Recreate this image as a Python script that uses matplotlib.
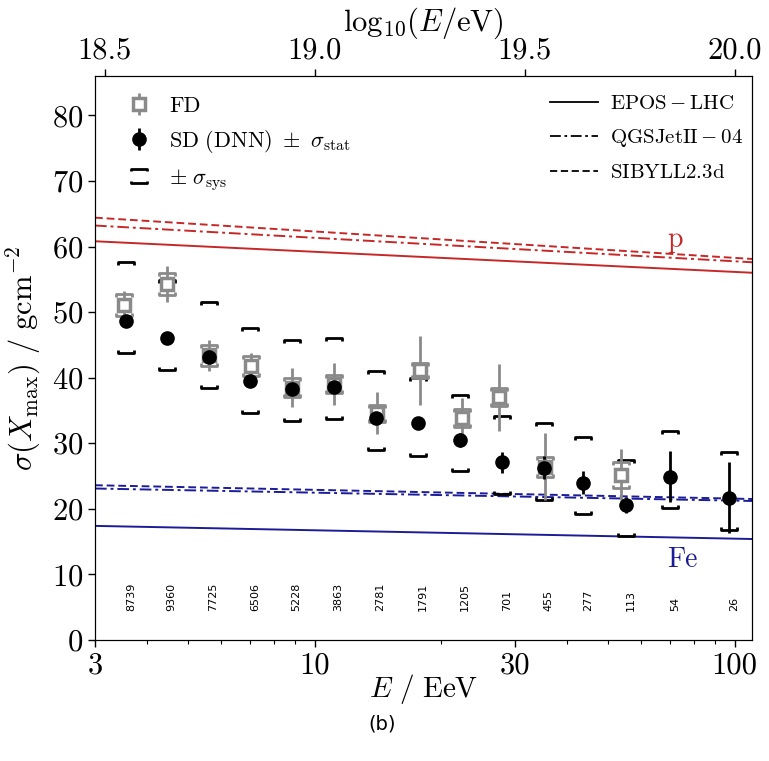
import matplotlib
matplotlib.use("Agg")
import matplotlib.pyplot as plt
import matplotlib.transforms as mtransforms
import numpy as np
from matplotlib.path import Path
from matplotlib.lines import Line2D
from matplotlib.ticker import FixedLocator, NullFormatter, LogLocator

plt.rcParams.update({
    "font.family": "serif",
    "font.serif": ["cmr10"],
    "mathtext.fontset": "cm",
    "axes.formatter.use_mathtext": True,
    "axes.unicode_minus": False,
})

# SD (DNN) points: energy in EeV, sigma(Xmax) in g/cm^2
sd_energy = [3.56, 4.44, 5.59, 7.02, 8.81, 11.1, 13.97, 17.6, 22.2, 28.0, 35.1, 43.6, 55.2, 70.3, 97.0]
sd_sigma = [48.7, 46.0, 43.2, 39.5, 38.3, 38.6, 33.8, 33.1, 30.5, 27.1, 26.3, 24.0, 20.6, 24.9, 21.7]
sd_stat = [0.3, 0.3, 0.4, 0.4, 0.5, 0.6, 0.7, 0.9, 1.1, 1.6, 1.8, 1.8, 1.2, 3.9, 5.4]
sd_sys_up = [57.7, 54.9, 51.6, 47.6, 45.8, 46.0, 41.0, 40.0, 37.4, 34.1, 33.1, 30.9, 27.5, 31.8, 28.6]
sd_sys_low = [43.8, 41.2, 38.4, 34.6, 33.4, 33.7, 29.0, 28.1, 25.7, 22.3, 21.3, 19.2, 15.8, 20.1, 16.7]
sd_counts = [8739, 9360, 7725, 6506, 5228, 3863, 2781, 1791, 1205, 701, 455, 277, 113, 54, 26]

# FD points
fd_energy = [3.52, 4.44, 5.60, 7.06, 8.85, 11.14, 14.07, 17.82, 22.43, 27.48, 35.35, 53.6]
fd_sigma = [51.1, 54.3, 43.4, 41.8, 38.5, 39.0, 34.6, 41.1, 33.9, 37.0, 26.4, 25.2]
fd_stat = [2.1, 2.8, 2.4, 2.0, 2.9, 3.2, 3.2, 5.2, 3.0, 5.1, 5.1, 3.9]
fd_sys = [1.7, 1.7, 1.6, 1.5, 1.4, 1.35, 1.3, 1.2, 1.35, 1.35, 1.5, 2.0]

# hadronic model predictions (straight in lg E), at the x-range ends
model_energy = [3.0, 110.0]
p_epos = [60.8, 56.0]
p_qgsjet = [63.2, 57.6]
p_sibyll = [64.4, 58.1]
fe_epos = [17.4, 15.4]
fe_qgsjet = [23.1, 21.2]
fe_sibyll = [23.6, 21.5]

RED = "#c62828"
BLUE = "#1c1c96"
GRAY = "#8a8a8a"

up_bracket = Path([(-1, -0.4), (-1, 0), (1, 0), (1, -0.4)])
low_bracket = Path([(-1, 0.4), (-1, 0), (1, 0), (1, 0.4)])
both_brackets = Path(
    [(-1, 0.55), (-1, 0.85), (1, 0.85), (1, 0.55), (-1, -0.55), (-1, -0.85), (1, -0.85), (1, -0.55)],
    [Path.MOVETO, Path.LINETO, Path.LINETO, Path.LINETO, Path.MOVETO, Path.LINETO, Path.LINETO, Path.LINETO],
)

fig = plt.figure(figsize=(7.69, 7.61), dpi=100)
ax = fig.add_axes([95 / 769, 1 - 640 / 761, 657 / 769, 564 / 761])

ls_dashdot = (0, (6, 2, 1.5, 2))
ls_dashed = (0, (4, 2))
for vals, col in [(p_epos, RED), (fe_epos, BLUE)]:
    ax.plot(model_energy, vals, color=col, lw=1.4, ls="-")
for vals, col in [(p_qgsjet, RED), (fe_qgsjet, BLUE)]:
    ax.plot(model_energy, vals, color=col, lw=1.4, ls=ls_dashdot)
for vals, col in [(p_sibyll, RED), (fe_sibyll, BLUE)]:
    ax.plot(model_energy, vals, color=col, lw=1.4, ls=ls_dashed)

# SD systematic brackets
ax.plot(sd_energy, sd_sys_up, ls="none", marker=up_bracket, ms=11, mfc="none", mec="k", mew=2)
ax.plot(sd_energy, sd_sys_low, ls="none", marker=low_bracket, ms=11, mfc="none", mec="k", mew=2)

# FD points: stat bars, sys caps, open squares
fd_hi = np.array(fd_sigma) + np.array(fd_sys)
fd_lo = np.array(fd_sigma) - np.array(fd_sys)
ax.plot(fd_energy, fd_hi, ls="none", marker=up_bracket, ms=11, mfc="none", mec=GRAY, mew=2)
ax.plot(fd_energy, fd_lo, ls="none", marker=low_bracket, ms=11, mfc="none", mec=GRAY, mew=2)
fd_err = ax.errorbar(fd_energy, fd_sigma, yerr=fd_stat, fmt="s", color=GRAY, ms=8,
                     mfc="white", mec=GRAY, mew=2.5, elinewidth=2, capsize=0)

# SD points
sd_err = ax.errorbar(sd_energy, sd_sigma, yerr=sd_stat, fmt="o", color="k", ms=9.5,
                     elinewidth=2, capsize=0)

count_tr = mtransforms.offset_copy(ax.transData, fig=fig, x=3.5, y=0, units="points")
for e, n in zip(sd_energy, sd_counts):
    ax.text(e, 4.4, str(n), rotation=90, ha="center", va="bottom", fontsize=8,
            family="DejaVu Sans", transform=count_tr)

ax.text(72, 60.0, "p", color=RED, fontsize=20, ha="center", va="baseline")
ax.text(75, 12.2, "Fe", color=BLUE, fontsize=20, ha="center", va="center")

ax.set_xscale("log")
ax.set_xlim(3, 110)
ax.set_ylim(0, 86)
ax.xaxis.set_major_locator(FixedLocator([3, 10, 30, 100]))
ax.set_xticklabels(["3", "10", "30", "100"])
ax.xaxis.set_minor_locator(LogLocator(base=10, subs=np.arange(2, 10)))
ax.xaxis.set_minor_formatter(NullFormatter())
ax.set_yticks(np.arange(0, 81, 10))
ax.tick_params(which="major", direction="out", length=5, width=1, labelsize=22)
ax.tick_params(which="minor", direction="out", length=3, width=0.8)
ax.set_xlabel(r"$E\ /\ \mathrm{EeV}$", fontsize=21, labelpad=-5)
ax.set_ylabel(r"$\sigma(X_\mathrm{max})\ /\ \mathrm{gcm^{-2}}$", fontsize=22, labelpad=6)

ax2 = ax.twiny()
ax2.set_xlim(18 + np.log10(3), 18 + np.log10(110))
ax2.set_xticks([18.5, 19.0, 19.5, 20.0])
ax2.set_xticklabels(["18.5", "19.0", "19.5", "20.0"])
ax2.tick_params(direction="out", length=5, width=1, labelsize=22)
ax2.set_xlabel(r"$\mathrm{log}_{10}(E/\mathrm{eV})$", fontsize=22, labelpad=4)

sys_handle = Line2D([], [], ls="none", marker=both_brackets, ms=12, mfc="none", mec="k", mew=2)
leg1 = ax.legend([fd_err, sd_err, sys_handle],
                 ["FD", r"$\mathrm{SD\ (DNN)}\ \pm\ \sigma_\mathrm{stat}$", r"$\pm\ \sigma_\mathrm{sys}$"],
                 loc="upper left", bbox_to_anchor=(0.01, 1.0), frameon=False, fontsize=16,
                 handlelength=1.6, handletextpad=0.55, labelspacing=0.55)
ax.add_artist(leg1)

model_handles = [Line2D([], [], color="k", lw=1.3, ls="-"),
                 Line2D([], [], color="k", lw=1.3, ls=ls_dashdot),
                 Line2D([], [], color="k", lw=1.3, ls=ls_dashed)]
ax.legend(model_handles,
          [r"$\mathrm{EPOS-LHC}$", r"$\mathrm{QGSJetII-04}$", r"$\mathrm{SIBYLL2.3d}$"],
          loc="upper right", bbox_to_anchor=(1.015, 1.0), frameon=False, fontsize=15,
          handlelength=2.3, handletextpad=0.6, labelspacing=0.68)

fig.text(0.497, 0.049, "(b)", ha="center", va="center", fontsize=14, family="DejaVu Sans")

fig.savefig("out.png", dpi=100)
